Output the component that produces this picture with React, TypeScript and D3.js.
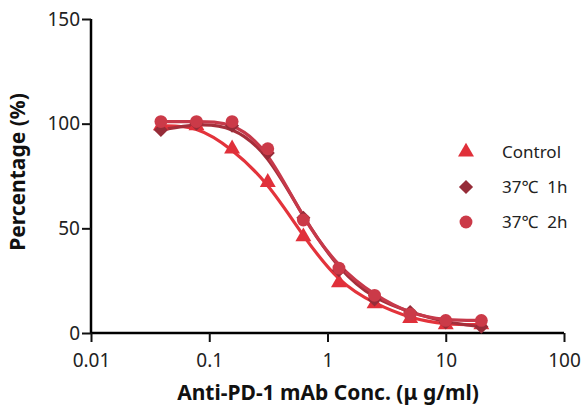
import React, { useEffect, useRef } from 'react';
import * as d3 from 'd3';

// concentrations (ug/ml) and % values
const concentrations = [0.039, 0.078, 0.156, 0.3125, 0.625, 1.25, 2.5, 5, 10, 20];
const controlValues = [99, 99, 88, 72, 46, 24, 14, 7, 4, 4];
const h1Values = [97, 100, 99, 86, 55, 30, 16, 10, 5, 3];
const h2Values = [101, 101, 101, 88, 54, 31, 18, 9, 6, 6];

const seriesNames = ['Control', '37\u2103\u00a0\u00a01h', '37\u2103\u00a0\u00a02h'];
const xTicks = [0.01, 0.1, 1, 10, 100];
const yTicks = [0, 50, 100, 150];

const W = 582;
const H = 406;

function App() {
  const svgRef = useRef<SVGSVGElement>(null);

  useEffect(() => {
    const svg = d3.select(svgRef.current);
    svg.selectAll('*').remove();

    const x = d3.scaleLog().domain([0.01, 100]).range([91, 564]);
    const y = d3.scaleLinear().domain([0, 150]).range([333, 19]);

    const series = [
      { name: seriesNames[0], values: controlValues, line: '#e3333b', fill: '#e0303a', shape: d3.symbolTriangle, size: 110, rot: 0 },
      { name: seriesNames[1], values: h1Values, line: '#a52f3b', fill: '#962c38', shape: d3.symbolSquare, size: 100, rot: 45 },
      { name: seriesNames[2], values: h2Values, line: '#c6394a', fill: '#cb3a48', shape: d3.symbolCircle, size: 130, rot: 0 },
    ];

    const font = "'Noto Sans', sans-serif";

    // minor ticks on the log axis
    const minor: number[] = [];
    [0.01, 0.1, 1, 10].forEach(d => {
      for (let k = 2; k <= 9; k++) minor.push(d * k);
    });

    const xAxisG = svg.append('g').attr('transform', 'translate(0,333)');
    xAxisG.call(d3.axisBottom(x).tickValues(minor).tickSize(5).tickFormat(() => ''));
    xAxisG.call(
      d3.axisBottom(x).tickValues(xTicks).tickSize(9).tickPadding(12)
        .tickFormat(d => String(d))
    );
    xAxisG.selectAll('path.domain').attr('stroke-width', 2.5).attr('d', 'M91,0H564');
    xAxisG.selectAll('line').attr('stroke-width', 2).attr('stroke', '#111');
    xAxisG.selectAll('text').attr('font-size', 19).attr('font-family', font).attr('fill', '#222');

    const yAxisG = svg.append('g').attr('transform', 'translate(91,0)');
    yAxisG.call(d3.axisLeft(y).tickValues(yTicks).tickSize(9).tickPadding(2));
    yAxisG.selectAll('path.domain').attr('stroke-width', 2.5).attr('d', 'M0,19V333');
    yAxisG.selectAll('line').attr('stroke-width', 2).attr('stroke', '#111');
    yAxisG.selectAll('text').attr('font-size', 19).attr('font-family', font).attr('fill', '#222');

    // curves
    const lineGen = d3.line<number>()
      .x((_, i) => x(concentrations[i]))
      .y(v => y(v))
      .curve(d3.curveBasis);

    series.forEach(s => {
      svg.append('path')
        .datum(s.values)
        .attr('d', lineGen)
        .attr('fill', 'none')
        .attr('stroke', s.line)
        .attr('stroke-width', 3.2);
    });

    // markers
    series.forEach(s => {
      const sym = d3.symbol().type(s.shape).size(s.size);
      svg.append('g')
        .selectAll('path')
        .data(s.values)
        .join('path')
        .attr('d', sym)
        .attr('transform', (v, i) => `translate(${x(concentrations[i])},${y(v)}) rotate(${s.rot})`)
        .attr('fill', s.fill);
    });

    // legend
    const legend = svg.append('g');
    series.forEach((s, i) => {
      const cy = 152 + i * 35;
      legend.append('path')
        .attr('d', d3.symbol().type(s.shape).size(s.size)())
        .attr('transform', `translate(466,${cy}) rotate(${s.rot})`)
        .attr('fill', s.fill);
      legend.append('text')
        .attr('x', 502)
        .attr('y', cy)
        .attr('dy', '0.35em')
        .attr('font-size', 17)
        .attr('font-family', font)
        .attr('fill', '#222')
        .text(s.name);
    });

    // axis titles
    svg.append('text')
      .attr('x', 328)
      .attr('y', 400)
      .attr('text-anchor', 'middle')
      .attr('font-size', 21)
      .attr('font-weight', 'bold')
      .attr('font-family', font)
      .attr('fill', '#111')
      .text('Anti-PD-1 mAb Conc. (\u03bc g/ml)');

    svg.append('text')
      .attr('transform', 'translate(25,172) rotate(-90)')
      .attr('text-anchor', 'middle')
      .attr('font-size', 21)
      .attr('font-weight', 'bold')
      .attr('font-family', font)
      .attr('fill', '#111')
      .text('Percentage (%)');
  }, []);

  return (
    <svg
      ref={svgRef}
      width={W}
      height={H}
      style={{ position: 'absolute', left: 0, top: 0, background: '#fff' }}
    />
  );
}

export default App;
